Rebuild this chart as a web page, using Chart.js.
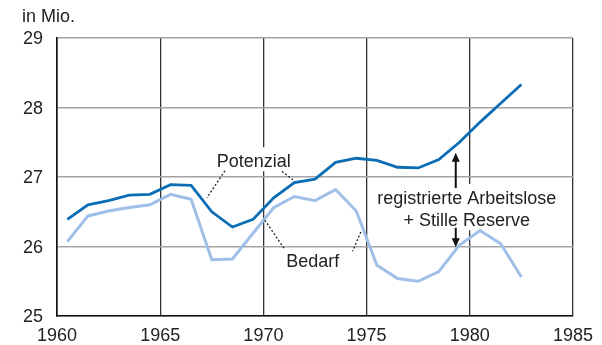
<!DOCTYPE html>
<html>
<head>
<meta charset="utf-8">
<script src="https://cdn.jsdelivr.net/npm/chart.js@4"></script>
<style>
  body { margin: 0; background: #fff; }
  canvas { display: block; }
</style>
</head>
<body>
<canvas id="erwerbsChart" width="602" height="345"></canvas>
<script>
// Years (plotted at mid-year)
const years = [1960, 1961, 1962, 1963, 1964, 1965, 1966, 1967, 1968, 1969, 1970, 1971,
               1972, 1973, 1974, 1975, 1976, 1977, 1978, 1979, 1980, 1981, 1982];

// Erwerbspersonenpotenzial, in Mio.
const potenzial = [26.39, 26.60, 26.66, 26.74, 26.75, 26.89, 26.88, 26.50, 26.28, 26.39, 26.70, 26.92,
                   26.97, 27.21, 27.27, 27.24, 27.14, 27.13, 27.25, 27.50, 27.79, 28.06, 28.33];

// Arbeitskräftebedarf, in Mio.
const bedarf = [26.07, 26.44, 26.51, 26.56, 26.60, 26.75, 26.68, 25.81, 25.82, 26.19, 26.56, 26.72,
                26.66, 26.82, 26.51, 25.73, 25.54, 25.50, 25.64, 26.02, 26.23, 26.04, 25.56];

const xTicks = [1960, 1965, 1970, 1975, 1980, 1985];
const yTicks = [25, 26, 27, 28, 29];

const FONT = '"Liberation Sans", Arial, sans-serif';
const TEXT_COLOR = '#222';

// Text labels and leaders, anchored in data units
const labels = [
  { text: 'Potenzial', x: 1969.53, y: 27.14, box: true },
  { text: 'Bedarf', x: 1972.39, y: 25.71, box: false },
  { text: 'registrierte Arbeitslose', x: 1979.85, y: 26.61, box: true },
  { text: '+ Stille Reserve', x: 1979.85, y: 26.29, box: true }
];
const leaders = [
  [1968.14, 27.09, 1967.26, 26.70],
  [1970.90, 27.08, 1971.43, 26.96],
  [1970.07, 26.38, 1971.03, 25.96],
  [1974.72, 26.21, 1974.32, 25.93]
];
const arrows = [
  [1979.32, 26.84, 1979.32, 27.35],
  [1979.32, 26.27, 1979.32, 25.99]
];

function toPoints(values) {
  return values.map((v, i) => ({ x: years[i] + 0.5, y: v }));
}

// White boxes behind the labels so grid lines stop at the text
const labelBoxes = {
  id: 'labelBoxes',
  beforeDatasetsDraw(chart) {
    const { ctx, scales } = chart;
    ctx.save();
    ctx.font = '18px ' + FONT;
    labels.forEach(l => {
      if (!l.box) return;
      const w = ctx.measureText(l.text).width;
      const px = scales.x.getPixelForValue(l.x);
      const py = scales.y.getPixelForValue(l.y);
      ctx.fillStyle = '#fff';
      ctx.fillRect(px - w / 2 - 3, py - 20, w + 6, 24);
    });
    ctx.restore();
  }
};

const annotations = {
  id: 'annotations',
  afterDatasetsDraw(chart) {
    const { ctx, scales } = chart;
    const X = v => scales.x.getPixelForValue(v);
    const Y = v => scales.y.getPixelForValue(v);
    ctx.save();

    // unit label
    ctx.fillStyle = TEXT_COLOR;
    ctx.font = '18px ' + FONT;
    ctx.textAlign = 'left';
    ctx.textBaseline = 'alphabetic';
    ctx.fillText('in Mio.', 22, 22);

    ctx.textAlign = 'center';
    labels.forEach(l => ctx.fillText(l.text, X(l.x), Y(l.y)));

    // dotted leaders
    ctx.strokeStyle = '#222';
    ctx.lineWidth = 1.3;
    ctx.setLineDash([2, 2]);
    leaders.forEach(([x1, y1, x2, y2]) => {
      ctx.beginPath();
      ctx.moveTo(X(x1), Y(y1));
      ctx.lineTo(X(x2), Y(y2));
      ctx.stroke();
    });
    ctx.setLineDash([]);

    // arrows
    ctx.strokeStyle = '#111';
    ctx.fillStyle = '#111';
    ctx.lineWidth = 2;
    arrows.forEach(([x1, y1, x2, y2]) => {
      const sx = X(x1), sy = Y(y1), ex = X(x2), ey = Y(y2);
      const dir = ey < sy ? -1 : 1;
      ctx.beginPath();
      ctx.moveTo(sx, sy);
      ctx.lineTo(ex, ey - dir * 6);
      ctx.stroke();
      ctx.beginPath();
      ctx.moveTo(ex, ey);
      ctx.lineTo(ex - 4, ey - dir * 9);
      ctx.lineTo(ex + 4, ey - dir * 9);
      ctx.closePath();
      ctx.fill();
    });

    ctx.restore();
  }
};

new Chart(document.getElementById('erwerbsChart'), {
  type: 'line',
  data: {
    datasets: [
      {
        label: 'Potenzial',
        data: toPoints(potenzial),
        borderColor: '#0b6db4',
        borderWidth: 2.8,
        pointRadius: 0,
        tension: 0,
        order: 0
      },
      {
        label: 'Bedarf',
        data: toPoints(bedarf),
        borderColor: '#9fbfe8',
        borderWidth: 3,
        pointRadius: 0,
        tension: 0,
        order: 1
      }
    ]
  },
  options: {
    responsive: false,
    animation: false,
    devicePixelRatio: 1,
    layout: {
      padding: { top: 38, right: 25, left: 0, bottom: 0 }
    },
    plugins: {
      legend: { display: false },
      tooltip: { enabled: false }
    },
    scales: {
      x: {
        type: 'linear',
        min: 1960,
        max: 1985,
        afterBuildTicks: scale => {
          scale.ticks = xTicks.map(v => ({ value: v }));
        },
        afterFit: scale => { scale.height = 29; },
        grid: {
          color: '#333',
          lineWidth: 1.3,
          drawTicks: false
        },
        border: { color: '#111', width: 1.6 },
        ticks: {
          padding: 9,
          color: TEXT_COLOR,
          font: { family: FONT, size: 18 },
          callback: v => String(v)
        }
      },
      y: {
        min: 25,
        max: 29,
        afterBuildTicks: scale => {
          scale.ticks = yTicks.map(v => ({ value: v }));
        },
        afterFit: scale => { scale.width = 57; },
        grid: {
          color: '#a3a3a3',
          lineWidth: 1.5,
          drawTicks: false
        },
        border: { color: '#111', width: 1.6 },
        ticks: {
          padding: 14,
          labelOffset: 1.5,
          color: TEXT_COLOR,
          font: { family: FONT, size: 18 },
          callback: v => String(v)
        }
      }
    }
  },
  plugins: [labelBoxes, annotations]
});
</script>
</body>
</html>
